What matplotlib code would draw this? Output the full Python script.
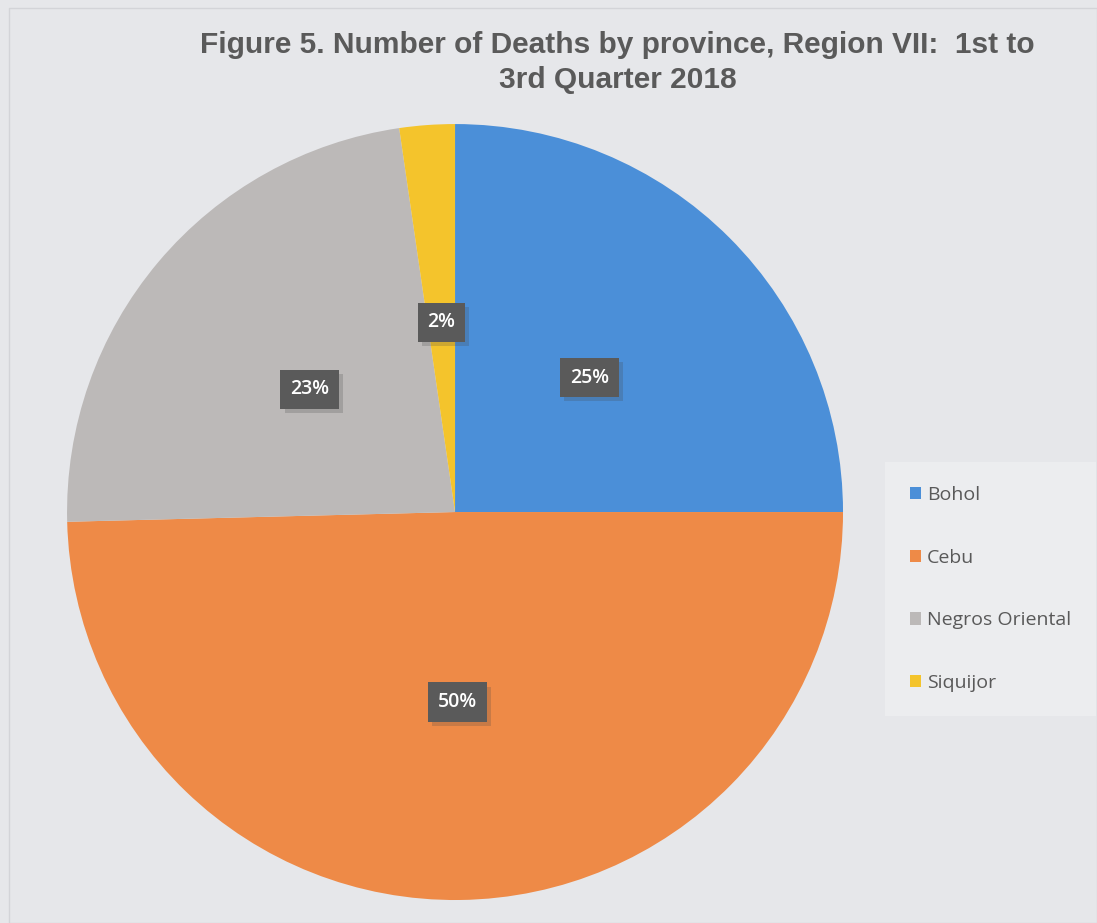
import matplotlib
matplotlib.use("Agg")
from matplotlib import pyplot as plt
from matplotlib import patheffects as pe
from matplotlib.patches import Rectangle
import numpy as np

# data (share of deaths, %)
provinces = ["Bohol", "Cebu", "Negros Oriental", "Siquijor"]
shares = [25.0, 49.6, 23.1, 2.3]
labels = ["25%", "50%", "23%", "2%"]
colors = ["#4b8fd8", "#ee8a47", "#bcb9b8", "#f4c42c"]

title = "Figure 5. Number of Deaths by province, Region VII:  1st to\n3rd Quarter 2018"

bg = "#e6e7ea"
fig = plt.figure(figsize=(10.97, 9.23), dpi=100, facecolor=bg)

# thin page border like the scan
fig.patches.append(Rectangle((0.008, 0.0), 0.992, 0.991, transform=fig.transFigure,
                             fill=False, edgecolor="#d3d4d8", linewidth=1.0))

ax = fig.add_axes([0.0611, 0.0249, 0.7074, 0.8407])
ax.set_facecolor(bg)

wedges, _ = ax.pie(shares, colors=colors, startangle=90, counterclock=False,
                   radius=1.0, wedgeprops=dict(linewidth=0))

# data labels in dark boxes with a soft shadow
for w, lab in zip(wedges, labels):
    ang = np.deg2rad((w.theta1 + w.theta2) / 2)
    x, y = 0.49 * np.cos(ang), 0.49 * np.sin(ang)
    t = ax.text(x, y, lab, ha="center", va="center", color="white",
                fontsize=14, fontweight="semibold", family=["Open Sans", "DejaVu Sans"],
                bbox=dict(boxstyle="square,pad=0.5", facecolor="#5a5a5a",
                          edgecolor="none"))
    t.get_bbox_patch().set_path_effects([
        pe.SimplePatchShadow(offset=(3, -3), shadow_rgbFace="#444444", alpha=0.22),
        pe.Normal()])

ax.set_xlim(-1, 1)
ax.set_ylim(-1, 1)
ax.set_aspect("equal")
ax.axis("off")

# legend
leg = fig.legend(wedges, provinces, loc="upper left",
                 bbox_to_anchor=(0.807, 0.5), frameon=True,
                 prop={"family": ["Open Sans", "DejaVu Sans"], "size": 14},
                 labelcolor="#595959", handlelength=0.6, handleheight=0.6,
                 handletextpad=0.3, labelspacing=2.3, borderpad=1.25,
                 borderaxespad=0)
leg.get_frame().set_facecolor("#eeeff1")
leg.get_frame().set_edgecolor("none")
leg.get_frame().set_boxstyle("square", pad=0)

fig.text(0.563, 0.966, title, ha="center", va="top", fontsize=21.5,
         fontweight="bold", color="#5a5a5a", linespacing=1.3,
         family=["Liberation Sans Narrow", "Liberation Sans", "DejaVu Sans"])

fig.savefig("out.png", dpi=100, facecolor=bg)
